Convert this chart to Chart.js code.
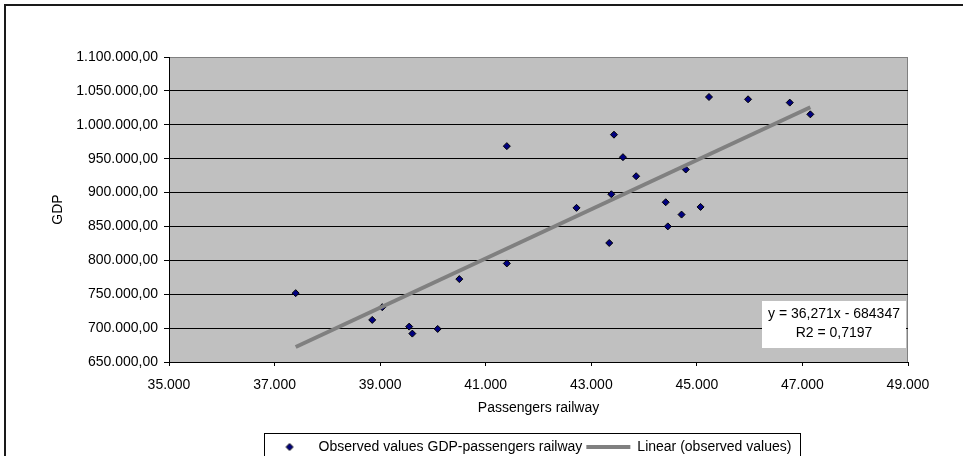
<!DOCTYPE html>
<html>
<head>
<meta charset="utf-8">
<title>GDP vs passengers railway</title>
<script src="https://cdn.jsdelivr.net/npm/chart.js@4.4.1/dist/chart.umd.min.js"></script>
<style>
  html, body { margin: 0; padding: 0; background: #fff; }
  #gdpChart { display: block; }
</style>
</head>
<body>
<canvas id="gdpChart" width="963" height="456"></canvas>
<script>
const passengers = [37400, 38850, 39040, 39550, 39610, 40090, 40500, 41400, 41400, 42720, 43340, 43380,
                    43430, 43600, 43850, 44410, 44450, 44710, 44790, 45070, 45230, 45970, 46760, 47150];
const gdp = [751600, 712100, 730900, 702200, 691900, 698800, 772300, 795400, 968500, 877400, 825600, 897500,
             985400, 952200, 924100, 885700, 850100, 867500, 934000, 878800, 1041000, 1037600, 1032700, 1015400];

// Trendline as printed on the chart
const trendSlope = 36.271;
const trendIntercept = -684347;
const trendR2 = 0.7197;

// Axis tick values
const xTickValues = [35000, 37000, 39000, 41000, 43000, 45000, 47000, 49000];
const yTickValues = [650000, 700000, 750000, 800000, 850000, 900000, 950000, 1000000, 1050000, 1100000];

const seriesLabels = ['Observed values GDP-passengers railway', 'Linear (observed values)'];

// 1234567 -> "1.234.567"
function fmtThousands(n) {
    return String(Math.round(n)).replace(/\B(?=(\d{3})+(?!\d))/g, '.');
}
function fmtDecimal(n) {
    return String(n).replace('.', ',');
}

const xMin = Math.min(...passengers);
const xMax = Math.max(...passengers);
const trendPoints = [xMin, xMax].map(x => ({ x: x, y: trendSlope * x + trendIntercept }));
const observedPoints = passengers.map((p, i) => ({ x: p, y: gdp[i] }));

// Small diamond used as the legend symbol of the observed series
const legendDiamond = document.createElement('canvas');
legendDiamond.width = 9;
legendDiamond.height = 9;
(function() {
    const d = legendDiamond.getContext('2d');
    d.beginPath();
    d.moveTo(4.5, 1);
    d.lineTo(8, 4.5);
    d.lineTo(4.5, 8);
    d.lineTo(1, 4.5);
    d.closePath();
    d.fillStyle = '#000080';
    d.fill();
    d.strokeStyle = '#000';
    d.lineWidth = 1;
    d.stroke();
})();

// Plot background, outer frame, equation box and legend border
const chartFrame = {
    id: 'chartFrame',
    afterLayout(chart) {
        // move the legend a bit to the left, like in the original
        chart.legend.left -= 9;
        chart.legend.right -= 9;
    },
    beforeDraw(chart) {
        const { ctx, chartArea: a } = chart;
        ctx.save();
        ctx.fillStyle = '#fff';
        ctx.fillRect(0, 0, chart.width, chart.height);
        ctx.strokeStyle = '#1a1a1a';
        ctx.lineWidth = 2;
        ctx.strokeRect(5, 5, chart.width + 20, chart.height + 20);
        ctx.fillStyle = '#c0c0c0';
        ctx.fillRect(a.left, a.top, a.right - a.left, a.bottom - a.top);
        ctx.strokeStyle = '#808080';
        ctx.lineWidth = 1;
        ctx.beginPath();
        ctx.moveTo(a.right - 0.5, a.top);
        ctx.lineTo(a.right - 0.5, a.bottom);
        ctx.stroke();
        ctx.restore();
    },
    afterDraw(chart) {
        const { ctx, chartArea: a } = chart;
        ctx.save();
        // equation label
        const bx = a.right - 146, by = a.bottom - 61;
        ctx.fillStyle = '#fff';
        ctx.fillRect(bx, by, 144, 47);
        ctx.fillStyle = '#000';
        ctx.font = '14px "Liberation Sans", Arial, sans-serif';
        ctx.textAlign = 'center';
        ctx.textBaseline = 'middle';
        const eq = 'y = ' + fmtDecimal(trendSlope) + 'x - ' + Math.abs(trendIntercept);
        ctx.fillText(eq, bx + 72, by + 13);
        ctx.fillText('R2 = ' + fmtDecimal(trendR2), bx + 72, by + 32);
        // legend border
        const hb = chart.legend.legendHitBoxes;
        if (hb && hb.length) {
            const first = hb[0], last = hb[hb.length - 1];
            const midY = first.top + first.height / 2;
            const left = Math.round(first.left - 4) + 0.5;
            const right = Math.round(last.left + last.width + 9) + 0.5;
            ctx.strokeStyle = '#000';
            ctx.lineWidth = 1;
            ctx.strokeRect(left, Math.round(midY - 14) + 0.5, right - left, 40);
        }
        ctx.restore();
    }
};

Chart.defaults.font.family = '"Liberation Sans", Arial, sans-serif';
Chart.defaults.font.size = 14;
Chart.defaults.color = '#000';

const ctx = document.getElementById('gdpChart').getContext('2d');
new Chart(ctx, {
    type: 'scatter',
    data: {
        datasets: [
            {
                label: seriesLabels[0],
                data: observedPoints,
                pointStyle: 'rectRot',
                pointRadius: 3.5,
                backgroundColor: '#000080',
                borderColor: '#000',
                borderWidth: 1,
                order: 2
            },
            {
                type: 'line',
                label: seriesLabels[1],
                data: trendPoints,
                borderColor: '#808080',
                backgroundColor: '#808080',
                borderWidth: 4,
                pointRadius: 0,
                fill: false,
                order: 1
            }
        ]
    },
    options: {
        responsive: false,
        animation: false,
        events: [],
        layout: {
            padding: { left: 0, top: 57, right: 55, bottom: -8 }
        },
        scales: {
            x: {
                type: 'linear',
                position: 'bottom',
                min: xTickValues[0],
                max: xTickValues[xTickValues.length - 1],
                afterFit: scale => { scale.height = 74; },
                ticks: {
                    stepSize: xTickValues[1] - xTickValues[0],
                    padding: 11,
                    maxRotation: 0,
                    autoSkip: false,
                    callback: v => fmtThousands(v)
                },
                grid: { drawOnChartArea: false, tickLength: 4, color: '#000' },
                border: { color: '#000', width: 1 },
                title: { display: true, text: 'Passengers railway', padding: { top: 0, bottom: 19.6 } }
            },
            y: {
                type: 'linear',
                min: yTickValues[0],
                max: yTickValues[yTickValues.length - 1],
                afterFit: scale => { scale.width = 169; },
                ticks: {
                    stepSize: yTickValues[1] - yTickValues[0],
                    padding: 6,
                    autoSkip: false,
                    callback: v => fmtThousands(v) + ',00'
                },
                grid: {
                    color: c => (c.tick && c.tick.value === yTickValues[yTickValues.length - 1]) ? '#808080' : '#000',
                    tickColor: '#000',
                    tickLength: 5
                },
                border: { color: '#000', width: 1 },
                title: { display: true, text: 'GDP', padding: { top: 50, bottom: 0 } }
            }
        },
        plugins: {
            legend: {
                position: 'bottom',
                fullSize: false,
                labels: {
                    usePointStyle: true,
                    pointStyleWidth: 44,
                    padding: 4,
                    color: '#000',
                    font: { size: 14 },
                    generateLabels: chart => chart.data.datasets.map((ds, i) => ({
                        text: ds.label,
                        datasetIndex: i,
                        pointStyle: i === 0 ? legendDiamond : 'line',
                        fillStyle: ds.backgroundColor,
                        strokeStyle: ds.borderColor,
                        lineWidth: i === 0 ? 0 : 4,
                        hidden: false
                    }))
                }
            },
            tooltip: { enabled: false }
        }
    },
    plugins: [chartFrame]
});
</script>
</body>
</html>
